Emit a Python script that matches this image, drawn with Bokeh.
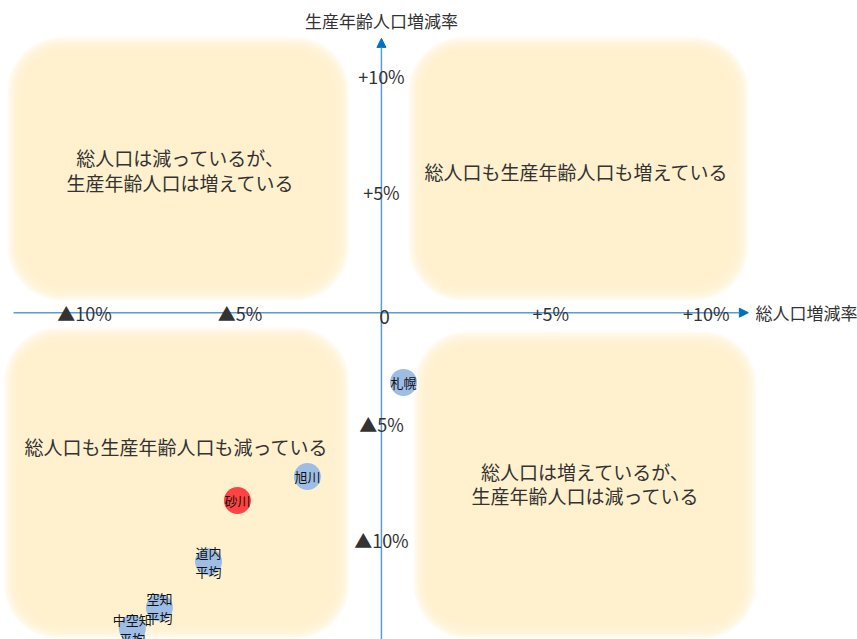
from bokeh.plotting import figure
from bokeh.models import BoxAnnotation, Arrow, NormalHead, Range1d
from bokeh.core.properties import value
from bokeh.embed import file_html
from bokeh.resources import INLINE

# ---- data ----
names = ["札幌", "旭川", "砂川", "道内\n平均", "空知\n平均", "中空知\n平均"]
total_change = [0.26, -2.83, -5.08, -6.01, -7.59, -8.46]        # 総人口増減率 (%)
working_change = [-3.2, -7.25, -8.28, -10.91, -12.89, -13.79]    # 生産年齢人口増減率 (%)
point_colors = ["#9DBDE5", "#9DBDE5", "#FF4343", "#9DBDE5", "#9DBDE5", "#9DBDE5"]

x_ticks = [-10, -5, 5, 10]
x_tick_labels = ["▲10%", "▲5%", "+5%", "+10%"]
y_ticks = [10, 5, -5, -10]
y_tick_labels = ["+10%", "+5%", "▲5%", "▲10%"]

x_title = "総人口増減率"
y_title = "生産年齢人口増減率"

quadrant_labels = [
    "総人口は減っているが、\n生産年齢人口は増えている",
    "総人口も生産年齢人口も増えている",
    "総人口も生産年齢人口も減っている",
    "総人口は増えているが、\n生産年齢人口は減っている",
]
quadrant_label_x = [-6.91, 5.82, -7.04, 6.11]
quadrant_label_y = [5.92, 5.87, -5.96, -7.55]
# quadrant background boxes (left, right, bottom, top)
quadrant_boxes = [
    (-12.22, -1.75, 0.67, 11.30),
    (0.68, 11.09, 0.67, 11.30),
    (-12.32, -1.75, -13.88, -1.18),
    (0.85, 11.35, -13.88, -1.35),
]

CROSS_X = -0.45   # vertical axis crosses here
CROSS_Y = -0.2    # horizontal axis crosses here

W, H = 857, 639
XR = (-12.70, 14.86)
YR = (-14.26, 13.23)
PX_X = W / (XR[1] - XR[0])
PX_Y = H / (YR[1] - YR[0])

FONT = value("Noto Sans CJK JP")
TXT = "#333333"

p = figure(width=W, height=H, x_range=Range1d(*XR), y_range=Range1d(*YR),
           output_backend="svg", toolbar_location=None,
           x_axis_location=None, y_axis_location=None, min_border=0)
p.grid.visible = False
p.outline_line_color = None
p.background_fill_color = "white"

# soft-edged rounded quadrant boxes
for (l, r, b, t) in quadrant_boxes:
    for k in range(10):
        inset = -8 + 2 * k
        p.add_layout(BoxAnnotation(
            left=l + inset / PX_X, right=r - inset / PX_X,
            bottom=b + inset / PX_Y, top=t - inset / PX_Y,
            fill_color="#FFF2CC", fill_alpha=0.28, line_color=None,
            border_radius=max(46 - inset, 0), level="underlay",
            editable=False))

# axes with arrows
p.add_layout(Arrow(end=NormalHead(size=9, fill_color="#0070C0", line_color="#0070C0"),
                   x_start=-12.28, y_start=CROSS_Y, x_end=11.35, y_end=CROSS_Y,
                   line_color="#5B9BD5", line_width=1.5, level="underlay"))
p.add_layout(Arrow(end=NormalHead(size=9, fill_color="#0070C0", line_color="#0070C0"),
                   x_start=CROSS_X, y_start=YR[0], x_end=CROSS_X, y_end=11.6,
                   line_color="#5B9BD5", line_width=1.5, level="underlay"))

# quadrant labels
p.text(x=quadrant_label_x, y=quadrant_label_y, text=quadrant_labels,
       text_font=FONT, text_font_size="19px", text_color=TXT,
       text_align="center", text_baseline="middle", text_line_height=0.92)

# tick labels
p.text(x=x_ticks, y=[CROSS_Y] * len(x_ticks), text=x_tick_labels,
       text_font=FONT, text_font_size="18px", text_color=TXT,
       text_align="center", text_baseline="middle")
p.text(x=[CROSS_X] * len(y_ticks), y=y_ticks, text=y_tick_labels,
       text_font=FONT, text_font_size="18px", text_color=TXT,
       text_align="center", text_baseline="middle")
p.text(x=[CROSS_X], y=[CROSS_Y], text=["0"], x_offset=3, y_offset=4,
       text_font=FONT, text_font_size="19px", text_color=TXT,
       text_align="center", text_baseline="middle")

# axis titles
p.text(x=[11.58], y=[CROSS_Y], text=[x_title], text_font=FONT,
       text_font_size="17px", text_color=TXT,
       text_align="left", text_baseline="middle")
p.text(x=[CROSS_X], y=[12.37], text=[y_title], text_font=FONT,
       text_font_size="17px", text_color=TXT,
       text_align="center", text_baseline="middle")

# points
p.scatter(x=total_change, y=working_change, size=27, fill_color=point_colors,
          line_color=None, fill_alpha=1.0)
p.text(x=total_change, y=working_change, text=names, text_font=FONT,
       text_font_size="13px", text_color="#111111",
       text_align="center", text_baseline="middle", text_line_height=1.0)

open("out.html", "w").write(file_html(p, INLINE))
